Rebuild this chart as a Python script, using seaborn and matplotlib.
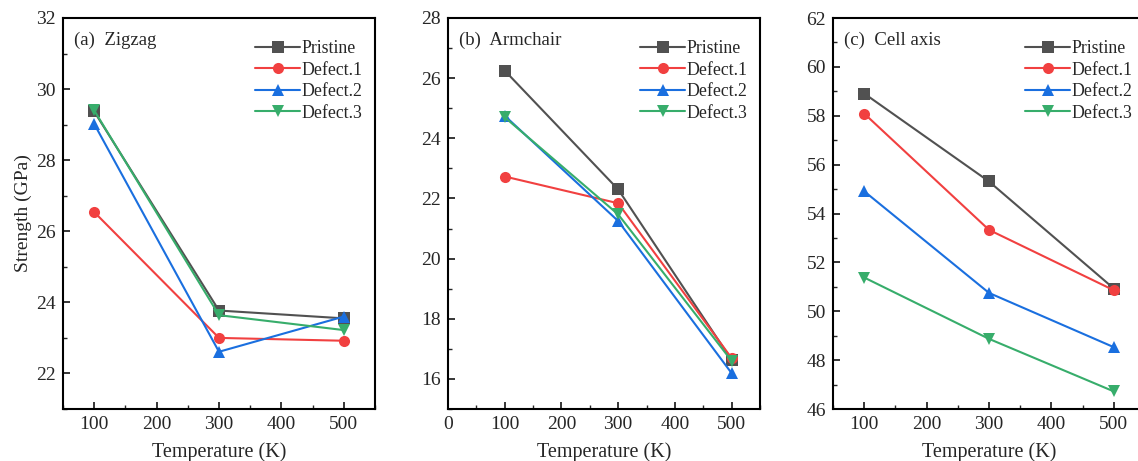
import numpy as np
import pandas as pd
import matplotlib
matplotlib.use("Agg")
import matplotlib.pyplot as plt
from matplotlib.ticker import AutoMinorLocator, MultipleLocator
import seaborn as sns

# ---- data -------------------------------------------------------------------
temps = [100, 300, 500]
series = ["Pristine", "Defect.1", "Defect.2", "Defect.3"]

zigzag_pristine = [29.37, 23.77, 23.55]
zigzag_defect1 = [26.54, 23.00, 22.92]
zigzag_defect2 = [29.02, 22.61, 23.60]
zigzag_defect3 = [29.40, 23.64, 23.22]

armchair_pristine = [26.25, 22.30, 16.63]
armchair_defect1 = [22.73, 21.84, 16.69]
armchair_defect2 = [24.75, 21.25, 16.19]
armchair_defect3 = [24.70, 21.47, 16.60]

cell_pristine = [58.91, 55.31, 50.93]
cell_defect1 = [58.09, 53.33, 50.86]
cell_defect2 = [54.91, 50.75, 48.53]
cell_defect3 = [51.38, 48.87, 46.72]

panels = [
    ("(a)  Zigzag", [zigzag_pristine, zigzag_defect1, zigzag_defect2, zigzag_defect3],
     (50, 550), (21, 32), 2),
    ("(b)  Armchair", [armchair_pristine, armchair_defect1, armchair_defect2, armchair_defect3],
     (0, 550), (15, 28), 2),
    ("(c)  Cell axis", [cell_pristine, cell_defect1, cell_defect2, cell_defect3],
     (50, 550), (46, 62), 2),
]

colors = {"Pristine": "#515151", "Defect.1": "#F14040",
          "Defect.2": "#1A6FDF", "Defect.3": "#37AD6B"}
markers = {"Pristine": "s", "Defect.1": "o", "Defect.2": "^", "Defect.3": "v"}

sns.set_style("ticks")
plt.rcParams["font.family"] = ["Liberation Serif", "DejaVu Serif"]

fig = plt.figure(figsize=(11.38, 4.61), dpi=100)
lefts = [63 / 1138, 448 / 1138, 833 / 1138]
bottom = 1 - 409 / 461
height = (409 - 18) / 461
width = 312 / 1138

for i, (title, vals, xlim, ylim, ystep) in enumerate(panels):
    ax = fig.add_axes([lefts[i], bottom, width, height])
    df = pd.DataFrame({
        "Temperature": np.tile(temps, len(series)),
        "Strength": np.concatenate(vals),
        "Series": np.repeat(series, len(temps)),
    })
    sns.lineplot(data=df, x="Temperature", y="Strength", hue="Series", style="Series",
                 palette=colors, markers=markers, dashes=False, markersize=8,
                 markeredgewidth=0, linewidth=1.5, ax=ax, legend=True)
    ax.set_xlim(*xlim)
    ax.set_ylim(*ylim)
    ax.xaxis.set_major_locator(MultipleLocator(100))
    ax.xaxis.set_minor_locator(AutoMinorLocator(2))
    ax.yaxis.set_major_locator(MultipleLocator(ystep))
    ax.yaxis.set_minor_locator(AutoMinorLocator(2))
    ax.tick_params(which="major", direction="in", length=5, width=1.3, labelsize=14,
                   top=False, right=False, pad=5)
    ax.tick_params(which="minor", direction="in", length=3, width=1.0,
                   top=False, right=False)
    for sp in ax.spines.values():
        sp.set_linewidth(1.5)
        sp.set_color("black")
    ax.set_xlabel("Temperature (K)", fontsize=14.5, labelpad=7)
    ax.set_ylabel("Strength (GPa)" if i == 0 else "", fontsize=14, labelpad=3)
    ax.text(0.035, 0.965, title, transform=ax.transAxes, ha="left", va="top", fontsize=13.5)
    handles, labels = ax.get_legend_handles_labels()
    ax.legend(handles, labels, loc="upper right", bbox_to_anchor=(1.0, 0.975), frameon=False,
              fontsize=12.8, handlelength=2.5, handletextpad=0.1, labelspacing=0.25,
              borderaxespad=0.3)

fig.savefig("out.png", dpi=100)
